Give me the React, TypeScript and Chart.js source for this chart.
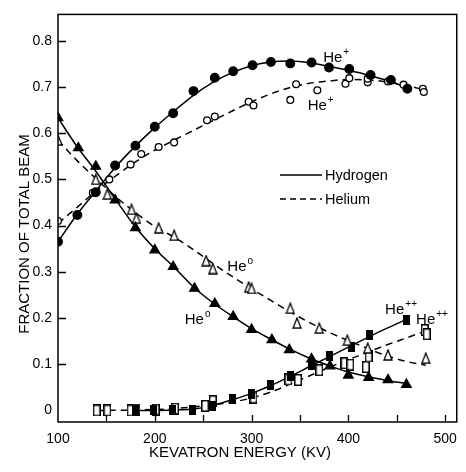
import React, { useEffect, useRef } from "react";
import { Chart, registerables } from "chart.js";
Chart.register(...registerables);

// ---------- data ----------
// He+ , hydrogen target (filled circles, solid curve)
const hPlusH_X = [100, 120, 139, 159, 180, 200, 219, 240, 262, 281, 301, 320, 340, 362, 380, 401, 423, 444, 461];
const hPlusH_Y = [0.365, 0.423, 0.472, 0.53, 0.573, 0.614, 0.643, 0.691, 0.72, 0.734, 0.747, 0.754, 0.751, 0.753, 0.742, 0.739, 0.726, 0.715, 0.696];
const hPlusH_CurveX = [100, 120, 140, 160, 180, 200, 220, 240, 260, 280, 300, 320, 340, 360, 380, 400, 420, 440, 460];
const hPlusH_CurveY = [0.365, 0.425, 0.477, 0.528, 0.572, 0.612, 0.648, 0.682, 0.71, 0.731, 0.746, 0.754, 0.756, 0.752, 0.745, 0.736, 0.726, 0.714, 0.699];

// He+ , helium target (open circles, dashed curve)
const hPlusHe_X = [100, 136, 153, 175, 186, 204, 220, 254, 262, 297, 302, 340, 346, 368, 397, 401, 420, 420, 441, 457, 477, 478];
const hPlusHe_Y = [0.41, 0.471, 0.5, 0.532, 0.555, 0.57, 0.58, 0.628, 0.636, 0.668, 0.66, 0.672, 0.706, 0.693, 0.707, 0.719, 0.71, 0.718, 0.712, 0.705, 0.696, 0.689];
const hPlusHe_CurveX = [100, 120, 140, 160, 180, 200, 220, 240, 260, 280, 300, 320, 340, 360, 380, 400, 420, 440, 460, 480];
const hPlusHe_CurveY = [0.405, 0.44, 0.476, 0.508, 0.538, 0.563, 0.585, 0.606, 0.627, 0.648, 0.668, 0.685, 0.699, 0.708, 0.713, 0.716, 0.715, 0.711, 0.703, 0.693];

// He0 , hydrogen target (filled triangles, solid curve)
const he0H_X = [100, 121, 139, 159, 180, 200, 219, 241, 262, 281, 300, 321, 339, 362, 381, 400, 421, 441, 460];
const he0H_Y = [0.633, 0.568, 0.528, 0.455, 0.395, 0.347, 0.311, 0.264, 0.231, 0.203, 0.175, 0.153, 0.131, 0.111, 0.096, 0.076, 0.071, 0.066, 0.056];
const he0H_CurveX = [100, 120, 140, 160, 180, 200, 220, 240, 260, 280, 300, 320, 340, 360, 380, 400, 420, 440, 460];
const he0H_CurveY = [0.633, 0.57, 0.515, 0.455, 0.397, 0.35, 0.31, 0.267, 0.233, 0.204, 0.177, 0.154, 0.132, 0.113, 0.097, 0.083, 0.073, 0.065, 0.058];

// He0 , helium target (open triangles, dashed curve)
const he0He_X = [100, 139, 151, 176, 181, 204, 220, 253, 260, 297, 300, 340, 347, 370, 399, 420, 441, 480];
const he0He_Y = [0.585, 0.5, 0.468, 0.435, 0.416, 0.395, 0.379, 0.324, 0.307, 0.267, 0.264, 0.221, 0.189, 0.178, 0.152, 0.135, 0.12, 0.113];
const he0He_CurveX = [100, 120, 140, 160, 180, 200, 220, 240, 260, 280, 300, 320, 340, 360, 380, 400, 420, 440, 460, 480];
const he0He_CurveY = [0.585, 0.54, 0.5, 0.462, 0.428, 0.398, 0.375, 0.348, 0.318, 0.29, 0.263, 0.238, 0.213, 0.19, 0.169, 0.151, 0.134, 0.118, 0.106, 0.098];

// He++ , hydrogen target (filled squares, solid curve)
const hePPH_X = [180, 199, 218, 239, 260, 280, 300, 320, 340, 362, 381, 403, 422, 460];
const hePPH_Y = [0, 0, 0, 0.002, 0.009, 0.025, 0.036, 0.054, 0.075, 0.098, 0.118, 0.138, 0.164, 0.196];
const hePPH_CurveX = [180, 200, 220, 240, 260, 280, 300, 320, 340, 360, 380, 400, 420, 440, 460];
const hePPH_CurveY = [0, 0, 0.001, 0.003, 0.011, 0.023, 0.037, 0.054, 0.074, 0.095, 0.116, 0.137, 0.158, 0.178, 0.197];

// He++ , helium target (open squares, dashed curve)
const hePPHe_X = [140, 151, 175, 181, 201, 221, 252, 260, 302, 338, 348, 370, 396, 402, 418, 421, 479, 481];
const hePPHe_Y = [0, 0, 0, 0.002, 0.002, 0.004, 0.01, 0.02, 0.028, 0.067, 0.066, 0.087, 0.102, 0.099, 0.094, 0.117, 0.174, 0.165];
const hePPHe_CurveX = [140, 180, 220, 250, 280, 300, 320, 340, 360, 380, 400, 420, 440, 460, 480];
const hePPHe_CurveY = [0, 0.001, 0.004, 0.01, 0.018, 0.027, 0.04, 0.057, 0.075, 0.093, 0.11, 0.126, 0.142, 0.157, 0.172];

// axes
const xTickValues = [100, 150, 200, 250, 300, 350, 400, 450, 500];
const yTickValues = [0, 0.1, 0.2, 0.3, 0.4, 0.5, 0.6, 0.7, 0.8];
const xTitle = "KEVATRON ENERGY (KV)";
const yTitle = "FRACTION OF TOTAL BEAM";
const legendLabels = ["Hydrogen", "Helium"];

// curve labels (text, superscript, anchor x, anchor y in data units)
const labelBase = ["He", "He", "He", "He", "He", "He"];
const labelSup = ["+", "+", "o", "o", "++", "++"];
const labelX = [374, 358, 275, 231, 438, 470];
const labelY = [0.753, 0.651, 0.301, 0.187, 0.208, 0.188];

const FONT = "'Liberation Sans', Arial, Helvetica, sans-serif";

export default function App() {
  const ref = useRef<HTMLCanvasElement>(null);

  useEffect(() => {
    document.body.style.margin = "0";
    const canvas = ref.current;
    if (!canvas) return;

    const pts = (xs: number[], ys: number[]) => xs.map((x, i) => ({ x, y: ys[i] }));
    const mk = (w: number, h: number, draw: (g: CanvasRenderingContext2D) => void) => {
      const c = document.createElement("canvas");
      c.width = w;
      c.height = h;
      const g = c.getContext("2d")!;
      draw(g);
      return c;
    };
    const filledSq = mk(7, 10, (g) => {
      g.fillStyle = "#000";
      g.fillRect(0, 0, 7, 10);
    });
    const openSq = mk(8, 12, (g) => {
      g.fillStyle = "#fff";
      g.fillRect(0, 0, 8, 12);
      g.strokeStyle = "#000";
      g.lineWidth = 1.5;
      g.strokeRect(0.75, 0.75, 6.5, 10.5);
    });
    const openTri = mk(10, 12, (g) => {
      g.beginPath();
      g.moveTo(5, 1);
      g.lineTo(9, 11);
      g.lineTo(1, 11);
      g.closePath();
      g.fillStyle = "#fff";
      g.fill();
      g.strokeStyle = "#000";
      g.lineWidth = 1.3;
      g.stroke();
    });

    const curve = (xs: number[], ys: number[], dashed: boolean) => ({
      data: pts(xs, ys),
      showLine: true,
      borderColor: "#000",
      borderWidth: 1.5,
      borderDash: dashed ? [7, 5] : [],
      pointRadius: 0,
      cubicInterpolationMode: "monotone" as const,
      fill: false,
      order: 2,
    });
    const marks = (xs: number[], ys: number[], style: any, radius: number, bg: string) => ({
      data: pts(xs, ys),
      showLine: false,
      pointStyle: style,
      pointRadius: radius,
      pointBackgroundColor: bg,
      pointBorderColor: "#000",
      pointBorderWidth: 1.3,
      order: 1,
    });

    const decor = {
      id: "decor",
      afterDraw(chart: any) {
        const { ctx, chartArea, scales } = chart;
        const { left, right, top, bottom } = chartArea;
        const x = scales.x;
        const y = scales.y;
        ctx.save();
        ctx.strokeStyle = "#000";
        ctx.fillStyle = "#000";
        ctx.lineWidth = 1.5;
        ctx.strokeRect(left, top, right - left, bottom - top);
        ctx.lineWidth = 1.3;
        // inside tick marks
        ctx.beginPath();
        yTickValues.filter((v) => v > 0).forEach((v) => {
          const py = Math.round(y.getPixelForValue(v)) + 0.5;
          ctx.moveTo(left, py);
          ctx.lineTo(left + 8, py);
        });
        xTickValues.filter((v) => v > 100).forEach((v) => {
          const px = Math.round(x.getPixelForValue(v)) + 0.5;
          ctx.moveTo(px, bottom);
          ctx.lineTo(px, bottom - 7);
        });
        ctx.stroke();

        // legend
        ctx.lineWidth = 1.4;
        ctx.beginPath();
        ctx.moveTo(280, 175);
        ctx.lineTo(322, 175);
        ctx.stroke();
        ctx.setLineDash([6, 4]);
        ctx.beginPath();
        ctx.moveTo(280, 199);
        ctx.lineTo(322, 199);
        ctx.stroke();
        ctx.setLineDash([]);
        ctx.font = `14.5px ${FONT}`;
        ctx.textBaseline = "middle";
        ctx.textAlign = "left";
        ctx.fillText(legendLabels[0], 325, 176);
        ctx.fillText(legendLabels[1], 325, 200);

        // curve labels
        ctx.textBaseline = "alphabetic";
        labelBase.forEach((b, i) => {
          const px = x.getPixelForValue(labelX[i]);
          const py = y.getPixelForValue(labelY[i]);
          ctx.font = `15px ${FONT}`;
          ctx.fillText(b, px, py);
          const w = ctx.measureText(b).width;
          ctx.font = `10px ${FONT}`;
          ctx.fillText(labelSup[i], px + w + 1, py - 7);
        });

        // axis titles
        ctx.font = `15px ${FONT}`;
        ctx.textAlign = "center";
        ctx.textBaseline = "middle";
        ctx.fillText(xTitle, 240, 453);
        ctx.translate(25, 234);
        ctx.rotate(-Math.PI / 2);
        ctx.fillText(yTitle, 0, 0);
        ctx.restore();
      },
    };

    const chart = new Chart(canvas, {
      type: "scatter",
      data: {
        datasets: [
          curve(hPlusH_CurveX, hPlusH_CurveY, false),
          curve(hPlusHe_CurveX, hPlusHe_CurveY, true),
          curve(he0H_CurveX, he0H_CurveY, false),
          curve(he0He_CurveX, he0He_CurveY, true),
          curve(hePPH_CurveX, hePPH_CurveY, false),
          curve(hePPHe_CurveX, hePPHe_CurveY, true),
          marks(hPlusH_X, hPlusH_Y, "circle", 4.3, "#000"),
          marks(hPlusHe_X, hPlusHe_Y, "circle", 3.4, "#fff"),
          marks(he0H_X, he0H_Y, "triangle", 5.5, "#000"),
          marks(he0He_X, he0He_Y, openTri, 5, "#fff"),
          marks(hePPH_X, hePPH_Y, filledSq, 5, "#000"),
          marks(hePPHe_X, hePPHe_Y, openSq, 5, "#fff"),
        ] as any,
      },
      options: {
        responsive: false,
        animation: false,
        devicePixelRatio: 1,
        layout: { padding: { top: 6, right: 2, left: 0, bottom: 0 } },
        plugins: { legend: { display: false }, tooltip: { enabled: false } },
        scales: {
          x: {
            type: "linear",
            min: 100,
            max: 512,
            afterBuildTicks: (s: any) => {
              s.ticks = xTickValues.map((v) => ({ value: v }));
            },
            afterFit: (s: any) => {
              s.height = 50;
            },
            grid: { display: false, drawTicks: false },
            border: { display: false },
            ticks: {
              color: "#000",
              font: { family: FONT, size: 14 },
              padding: 9,
              maxRotation: 0,
              autoSkip: false,
              callback: (v: any) => (Number(v) % 100 === 0 ? String(v) : ""),
            },
          },
          y: {
            type: "linear",
            min: -0.025,
            max: 0.857,
            afterBuildTicks: (s: any) => {
              s.ticks = yTickValues.map((v) => ({ value: v }));
            },
            afterFit: (s: any) => {
              s.width = 58;
            },
            grid: { display: false, drawTicks: false },
            border: { display: false },
            ticks: {
              color: "#000",
              font: { family: FONT, size: 14 },
              padding: 6,
              autoSkip: false,
              callback: (v: any) => (Number(v) === 0 ? "0" : Number(v).toFixed(1)),
            },
          },
        },
      },
      plugins: [decor],
    });
    return () => chart.destroy();
  }, []);

  return (
    <div style={{ width: 466, height: 472, background: "#fff" }}>
      <canvas ref={ref} width={466} height={472} style={{ display: "block" }} />
    </div>
  );
}
